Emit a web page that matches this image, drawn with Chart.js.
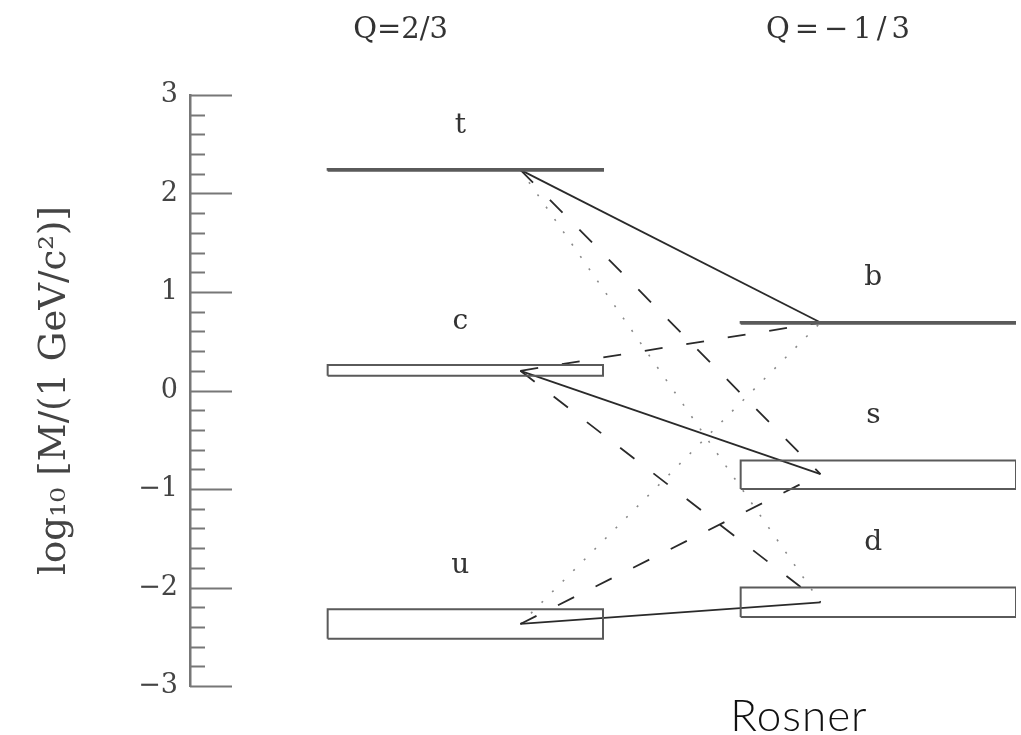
<!DOCTYPE html>
<html>
<head>
<meta charset="utf-8">
<script src="https://cdn.jsdelivr.net/npm/chart.js@4/dist/chart.umd.min.js"></script>
<style>
html,body{margin:0;padding:0;background:#fff;}
#wrap{width:1021px;height:735px;}
</style>
</head>
<body>
<div id="wrap"><canvas id="c" width="1021" height="735"></canvas></div>
<script>
// ---- data (log10 of mass in GeV/c^2) ----
const upNames   = ['t', 'c', 'u'];
const upLow     = [2.232, 0.15, -2.52];
const upHigh    = [2.250, 0.26, -2.22];
const upMid     = [2.24, 0.20, -2.37];

const downNames = ['b', 's', 'd'];
const downLow   = [0.677, -1.00, -2.30];
const downHigh  = [0.695, -0.71, -2.00];
const downMid   = [0.69, -0.85, -2.15];

// mixing links [upIndex, downIndex]
const solidLinks  = [[0,0],[1,1],[2,2]];
const dashedLinks = [[0,1],[1,0],[1,2],[2,1]];
const dottedLinks = [[0,2],[2,0]];

const chargeLabels = ['Q=2/3', 'Q=\u22121/3'];
const majorTicks   = [-3, -2, -1, 0, 1, 2, 3];
const tickLabels   = ['\u22123', '\u22122', '\u22121', '0', '1', '2', '3'];
const axisTitle    = 'log\u2081\u2080 [M/(1 GeV/c\u00B2)]';
const credit       = 'Rosner';

// ---- layout (x in abstract column units) ----
const UP_X = [1, 3], DOWN_X = [4, 6];
const UP_END = 2.4, DOWN_END = 4.58;
const MINOR_DIV = 5;

function boxPts(x, lo, hi) {
  return [{x:x[0],y:lo},{x:x[1],y:lo},{x:x[1],y:hi},{x:x[0],y:hi},{x:x[0],y:lo}];
}
const datasets = [];
const boxStyle = {showLine:true, fill:false, pointRadius:0, borderColor:'#5a5a5a', borderWidth:2, tension:0};
upNames.forEach((n,i)=>datasets.push(Object.assign({label:n, data:boxPts(UP_X, upLow[i], upHigh[i])}, boxStyle)));
downNames.forEach((n,i)=>datasets.push(Object.assign({label:n, data:boxPts(DOWN_X, downLow[i], downHigh[i])}, boxStyle)));
function linkSet(links, style) {
  links.forEach(([u,d])=>datasets.push(Object.assign({
    label: upNames[u]+'-'+downNames[d],
    data: [{x:UP_END, y:upMid[u]}, {x:DOWN_END, y:downMid[d]}],
    showLine:true, fill:false, pointRadius:0, tension:0
  }, style)));
}
linkSet(solidLinks,  {borderColor:'#2a2a2a', borderWidth:1.8});
linkSet(dashedLinks, {borderColor:'#2a2a2a', borderWidth:1.8, borderDash:[18,24]});
linkSet(dottedLinks, {borderColor:'#8a8a8a', borderWidth:1.6, borderDash:[2,13]});

const minorTickValues = [];
for (let i = 0; i < majorTicks.length - 1; i++) {
  for (let k = 0; k < MINOR_DIV; k++) {
    minorTickValues.push(Math.round((majorTicks[i] + k * (majorTicks[i+1]-majorTicks[i]) / MINOR_DIV) * 1000) / 1000);
  }
}
minorTickValues.push(majorTicks[majorTicks.length-1]);

const decorPlugin = {
  id: 'decor',
  afterDraw(chart) {
    const ctx = chart.ctx, xs = chart.scales.x, ys = chart.scales.y;
    const x0 = chart.chartArea.left;
    ctx.save();
    // inward tick marks
    ctx.strokeStyle = '#777';
    ctx.lineWidth = 2;
    minorTickValues.forEach(v => {
      const major = majorTicks.includes(v);
      const py = Math.round(ys.getPixelForValue(v)) + 0.5;
      ctx.beginPath();
      ctx.moveTo(x0, py);
      ctx.lineTo(x0 + (major ? 42 : 15), py);
      ctx.stroke();
    });
    // quark labels
    ctx.fillStyle = '#333';
    ctx.font = '28px "DejaVu Serif"';
    ctx.textAlign = 'center';
    ctx.textBaseline = 'middle';
    upNames.forEach((n,i)=>ctx.fillText(n, xs.getPixelForValue((UP_X[0]+UP_X[1])/2) - 5, ys.getPixelForValue(upHigh[i] + 0.44)));
    downNames.forEach((n,i)=>ctx.fillText(n, xs.getPixelForValue((DOWN_X[0]+DOWN_X[1])/2) - 5, ys.getPixelForValue(downHigh[i] + 0.45)));
    // charge headers
    ctx.font = '29px "DejaVu Serif"';
    ctx.fillText(chargeLabels[0], xs.getPixelForValue(1.53), 30);
    ctx.letterSpacing = '5px';
    ctx.fillText(chargeLabels[1], xs.getPixelForValue(4.71) + 2, 30);
    ctx.letterSpacing = '0px';
    // credit
    ctx.fillStyle = '#111';
    ctx.font = '300 44px Lato';
    ctx.letterSpacing = '1px';
    ctx.textBaseline = 'alphabetic';
    ctx.fillText(credit, 799, 731);
    ctx.restore();
  }
};

new Chart(document.getElementById('c'), {
  type: 'scatter',
  data: { datasets },
  options: {
    responsive: false,
    animation: false,
    events: [],
    layout: { padding: { top: 95, bottom: 49, left: 0, right: 5 } },
    plugins: { legend: {display:false}, tooltip: {enabled:false} },
    scales: {
      x: { type:'linear', min:0, max:6, display:false },
      y: {
        type:'linear', min:-3, max:3,
        afterFit: s => { s.width = 190; },
        afterBuildTicks: s => { s.ticks = minorTickValues.map(v => ({value:v})); },
        grid: { display:false, drawTicks:false },
        border: { display:true, color:'#777', width:2.5 },
        ticks: {
          autoSkip:false, padding:12, color:'#444',
          font: { family:'"DejaVu Serif"', size:27 },
          callback: v => { const i = majorTicks.indexOf(v); return i >= 0 ? tickLabels[i] : ''; }
        },
        title: {
          display:true, text:axisTitle, color:'#444',
          font: { family:'"DejaVu Serif"', size:37 },
          padding: { top:33, bottom:0 }
        }
      }
    }
  },
  plugins: [decorPlugin]
});
</script>
</body>
</html>
